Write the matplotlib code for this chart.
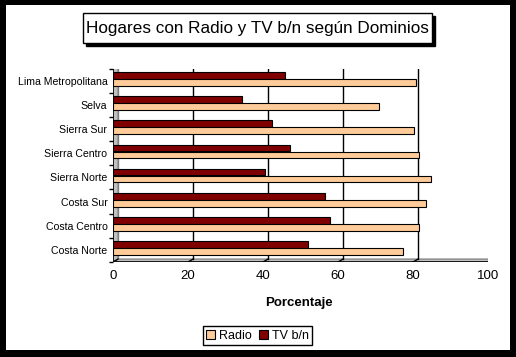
"""Hogares con Radio y TV b/n segun Dominios - horizontal bar chart (Excel 3D look)."""

import matplotlib

matplotlib.use("Agg")
import matplotlib.pyplot as plt
from matplotlib.patches import Rectangle, Polygon

plt.rcParams["font.family"] = ["Liberation Sans", "DejaVu Sans"]

# --- data (bottom to top, as drawn) ---
dominios = ["Costa Norte", "Costa Centro", "Costa Sur", "Sierra Norte",
            "Sierra Centro", "Sierra Sur", "Selva", "Lima Metropolitana"]
radio = [77.3, 81.7, 83.5, 84.8, 81.5, 80.3, 70.9, 80.8]
tv_bn = [52.1, 57.8, 56.5, 40.6, 47.1, 42.5, 34.5, 45.8]
x_ticks = [0, 20, 40, 60, 80, 100]

RADIO_COL = "#FFCC99"
TV_COL = "#800000"
W, H = 516, 357

fig = plt.figure(figsize=(W / 100, H / 100), dpi=100, facecolor="black")

# white chart area inside the black frame
fig.patches.append(Rectangle((6 / W, 7 / H), 504 / W, 345 / H, transform=fig.transFigure,
                             facecolor="white", edgecolor="none", zorder=-10))

# title box with drop shadow
bx0, bx1, by0, by1 = 82.7, 431.7, 12.7, 43.3
fig.patches.append(Rectangle(((bx0 + 3) / W, 1 - (by1 + 3) / H), (bx1 - bx0) / W, (by1 - by0) / H,
                             transform=fig.transFigure, facecolor="black", edgecolor="black", zorder=-9))
fig.patches.append(Rectangle((bx0 / W, 1 - by1 / H), (bx1 - bx0) / W, (by1 - by0) / H,
                             transform=fig.transFigure, facecolor="white", edgecolor="black",
                             lw=1, zorder=-8))
fig.text(257 / W, 1 - 28.5 / H, "Hogares con Radio y TV b/n según Dominios",
         ha="center", va="center", fontsize=12.3, zorder=3)

ax = fig.add_axes([113 / W, 1 - 262 / H, 375 / W, 193.4 / H])
ax.set_zorder(5)
ax.set_facecolor("none")
for s in ax.spines.values():
    s.set_visible(False)

n = len(dominios)
ymin, ymax = -0.5, n - 0.5
dx, dy = 1.33, 0.12  # depth offset of the back plane, in data units

# back wall, floor and left wall
ax.add_patch(Rectangle((dx, ymin + dy), 100, n, facecolor="white", edgecolor="#808080",
                       lw=1, zorder=0))
ax.add_patch(Polygon([(0, ymin), (0, ymax), (dx, ymax + dy), (dx, ymin + dy)],
                     closed=True, facecolor="#C0C0C0", edgecolor="#808080", lw=0.8, zorder=1))
ax.add_patch(Polygon([(0, ymin), (100, ymin), (100 + dx, ymin + dy), (dx, ymin + dy)],
                     closed=True, facecolor="#C0C0C0", edgecolor="#808080", lw=0.8, zorder=1))
for t in x_ticks[1:-1]:
    ax.plot([t + dx, t + dx], [ymin + dy, ymax + dy], color="black", lw=1, zorder=1)
for t in x_ticks:
    ax.plot([t, t + dx], [ymin, ymin + dy], color="black", lw=1, zorder=2)
ax.plot([0, 100], [ymin, ymin], color="black", lw=1.2, zorder=2)
ax.plot([0, 0], [ymin, ymax], color="black", lw=1.2, zorder=2)

ypos = list(range(n))
ax.barh([y + 0.22 for y in ypos], tv_bn, height=0.27, color=TV_COL,
        edgecolor="black", lw=0.8, zorder=3)
ax.barh([y - 0.07 for y in ypos], radio, height=0.27, color=RADIO_COL,
        edgecolor="black", lw=0.8, zorder=3)

ax.set_xlim(0, 100)
ax.set_ylim(ymin, ymax)
ax.set_xticks(x_ticks)
ax.tick_params(axis="x", length=0, pad=6, labelsize=9.5)
ax.set_yticks(ypos)
ax.set_yticklabels(dominios)
ax.set_yticks([y + 0.5 for y in range(-1, n)], minor=True)
ax.tick_params(axis="y", which="major", length=0, pad=4, labelsize=7.6)
ax.tick_params(axis="y", which="minor", length=3, width=1, color="black")

fig.text(299 / W, 1 - 302.7 / H, "Porcentaje", ha="center", va="center",
         fontsize=9.5, fontweight="bold")

handles = [Rectangle((0, 0), 1, 1, facecolor=RADIO_COL, edgecolor="black", lw=0.8),
           Rectangle((0, 0), 1, 1, facecolor=TV_COL, edgecolor="black", lw=0.8)]
leg = fig.legend(handles, ["Radio", "TV b/n"], loc="center", ncol=2,
                 bbox_to_anchor=(257.5 / W, 1 - 335.7 / H), fontsize=9,
                 fancybox=False, framealpha=1, edgecolor="black",
                 handlelength=0.7, handleheight=0.7, handletextpad=0.3,
                 columnspacing=0.6, borderpad=0.3, borderaxespad=0)
leg.get_frame().set_linewidth(1)

fig.savefig("out.png", dpi=100, facecolor="black")
